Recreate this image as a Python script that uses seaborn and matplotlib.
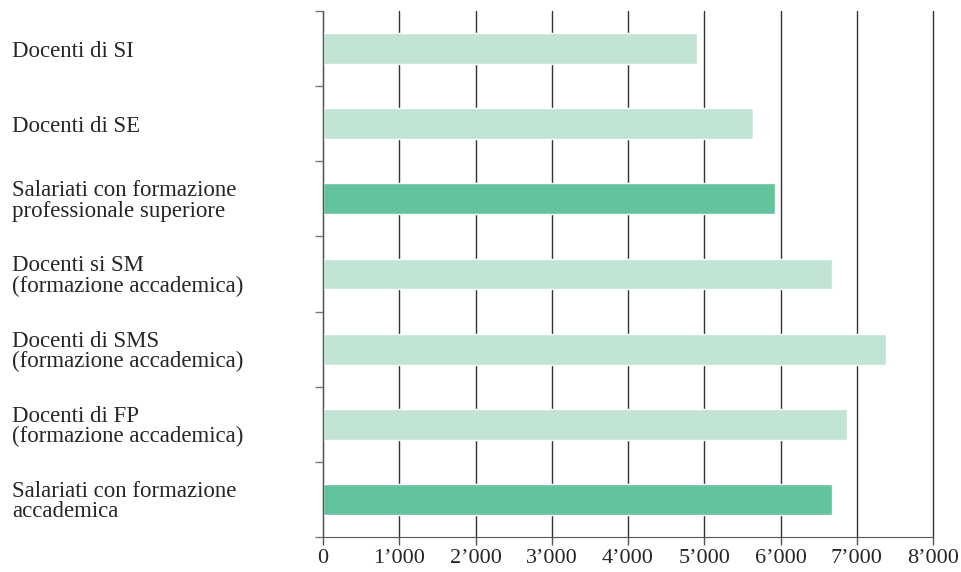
import pandas as pd
import numpy as np
import matplotlib.pyplot as plt
import matplotlib.ticker as mticker
import seaborn as sns

categories = [
    "Docenti di SI",
    "Docenti di SE",
    "Salariati con formazione\nprofessionale superiore",
    "Docenti si SM\n(formazione accademica)",
    "Docenti di SMS\n(formazione accademica)",
    "Docenti di FP\n(formazione accademica)",
    "Salariati con formazione\naccademica",
]
values = [4900, 5640, 5930, 6680, 7380, 6870, 6680]
groups = ["Docenti", "Docenti", "Salariati", "Docenti", "Docenti", "Docenti", "Salariati"]
x_ticks = [0, 1000, 2000, 3000, 4000, 5000, 6000, 7000, 8000]

palette = {"Docenti": "#c2e4d5", "Salariati": "#62c39c"}

sns.set_style("white")
plt.rcParams["font.family"] = ["Liberation Serif", "DejaVu Serif"]

df = pd.DataFrame({"categoria": categories, "valore": values, "gruppo": groups})

fig = plt.figure(figsize=(9.62, 5.72), dpi=100)
ax = fig.add_axes([0.3358, 0.0612, 0.9699 - 0.3358, 0.9808 - 0.0612])

sns.barplot(
    data=df,
    x="valore",
    y="categoria",
    hue="gruppo",
    palette=palette,
    saturation=1,
    dodge=False,
    width=0.41,
    legend=False,
    ax=ax,
)

ax.set_axisbelow(True)
ax.set_xlim(0, 8000)
ax.set_ylim(len(categories) - 0.5, -0.5)
ax.set_xticks(x_ticks)
ax.xaxis.set_major_formatter(
    mticker.FuncFormatter(lambda v, p: f"{int(v):,}".replace(",", "\u2019"))
)
ax.grid(axis="x", color="#333333", linewidth=1.0)
ax.grid(axis="y", visible=False)
for gl in ax.get_xgridlines():
    gl.set_clip_on(False)

# tick marks between the categories, labels left aligned at the figure edge
ax.set_yticks(np.arange(-0.5, len(categories), 1.0), minor=True)
ax.tick_params(axis="y", which="minor", left=True, length=6, width=1, color="#777777")
ax.tick_params(axis="y", which="major", left=False, length=0, pad=224, labelsize=16.5)
for lbl in ax.get_yticklabels():
    lbl.set_horizontalalignment("left")
    lbl.set_linespacing(0.95)

ax.tick_params(axis="x", bottom=True, length=6, width=1, color="#555555", pad=3,
               labelsize=16)

for s in ["top", "right"]:
    ax.spines[s].set_visible(False)
ax.spines["left"].set_color("#555555")
ax.spines["bottom"].set_color("#555555")

ax.set_xlabel("")
ax.set_ylabel("")

plt.savefig("out.png", dpi=100)
plt.close()
